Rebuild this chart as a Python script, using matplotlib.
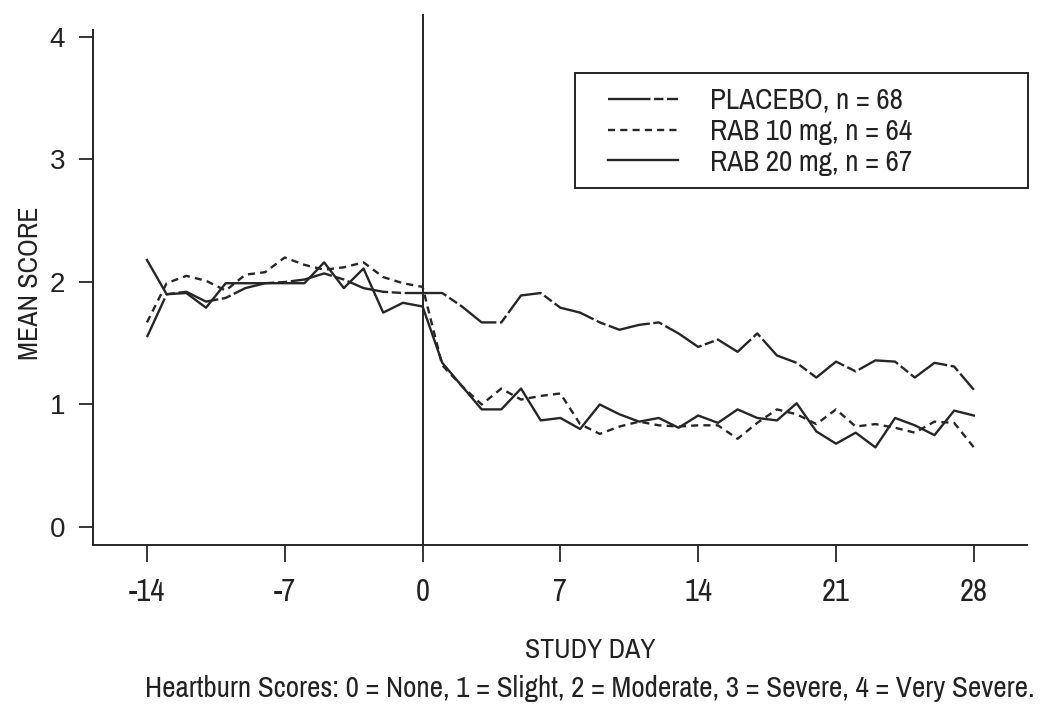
import matplotlib
matplotlib.use("Agg")
import matplotlib.pyplot as plt
from matplotlib import font_manager as fm
from matplotlib.patches import Rectangle

days = list(range(-14, 29))

placebo = [1.55, 1.90, 1.92, 1.84, 1.87, 1.95, 1.99, 2.00, 2.02, 2.07, 2.02, 1.95, 1.92, 1.91, 1.91,
           1.91, 1.80, 1.67, 1.67, 1.89, 1.91, 1.79, 1.75, 1.67, 1.61, 1.65, 1.67, 1.58, 1.47,
           1.53, 1.43, 1.58, 1.40, 1.34, 1.22, 1.35, 1.27, 1.36, 1.35, 1.22, 1.34, 1.31, 1.12]

rab10 = [1.67, 1.99, 2.05, 2.01, 1.93, 2.06, 2.08, 2.20, 2.14, 2.10, 2.12, 2.16, 2.04, 1.99, 1.96,
         1.32, 1.15, 1.00, 1.13, 1.04, 1.07, 1.09, 0.84, 0.76, 0.82, 0.86, 0.83, 0.82, 0.83,
         0.83, 0.72, 0.85, 0.96, 0.92, 0.84, 0.96, 0.82, 0.84, 0.81, 0.77, 0.86, 0.85, 0.65]

rab20 = [2.18, 1.90, 1.91, 1.79, 1.99, 1.99, 1.99, 1.99, 1.99, 2.16, 1.95, 2.11, 1.75, 1.83, 1.80,
         1.34, 1.15, 0.96, 0.96, 1.13, 0.87, 0.89, 0.80, 1.00, 0.92, 0.86, 0.89, 0.81, 0.91,
         0.85, 0.96, 0.89, 0.87, 1.01, 0.78, 0.68, 0.77, 0.65, 0.89, 0.83, 0.75, 0.95, 0.91]

labels = ["PLACEBO, n = 68", "RAB 10 mg, n = 64", "RAB 20 mg, n = 67"]
xticks = [-14, -7, 0, 7, 14, 21, 28]
yticks = [0, 1, 2, 3, 4]

# condensed font if available
cond = None
for f in fm.fontManager.ttflist:
    if "Condensed" in f.fname or "Narrow" in f.fname:
        if "Bold" in f.fname or "Italic" in f.fname or "Light" in f.fname:
            continue
        cond = f.fname
        if "Narrow" in f.fname:
            break
if cond is not None:
    NARROW_PROP = lambda size: fm.FontProperties(fname=cond, size=size)
else:
    NARROW_PROP = lambda size: fm.FontProperties(family="Liberation Sans", size=size * 0.85)

W, H = 1048, 706
fig = plt.figure(figsize=(W / 100, H / 100), dpi=100)
ax = fig.add_axes([93/W, 1-545/H, (1027-93)/W, (545-30)/H])

col = "#262626"
tcol = "#222222"
ax.plot(days, placebo, color=col, lw=1.7, dashes=(18, 1.5, 4, 1.5), label=labels[0])
ax.plot(days, rab10, color=col, lw=1.7, dashes=(3, 2.2), label=labels[1])
ax.plot(days, rab20, color=col, lw=1.7, label=labels[2])

ax.axvline(0, ymin=0, ymax=1.03, color=col, lw=1.4, clip_on=False, zorder=5)

ax.set_xlim(-16.74, 30.7)
ax.set_ylim(-0.147, 4.057)

for s in ["top", "right"]:
    ax.spines[s].set_visible(False)
for s in ["left", "bottom"]:
    ax.spines[s].set_linewidth(1.4)
    ax.spines[s].set_color(col)

ax.set_xticks(xticks)
ax.set_xticklabels([str(v) for v in xticks], fontproperties=NARROW_PROP(22), color=tcol)
ax.set_yticks(yticks)
ax.set_yticklabels([str(v) for v in yticks], family=["Liberation Sans", "DejaVu Sans"], fontsize=20, color=tcol)
ax.tick_params(axis="x", length=12, width=1.3, pad=12, color=col)
ax.tick_params(axis="y", length=10, width=1.3, pad=10, color=col)

ax.set_xlabel("STUDY DAY", fontproperties=NARROW_PROP(20), color=tcol)
ax.set_ylabel("MEAN SCORE", fontproperties=NARROW_PROP(20), color=tcol)
ax.xaxis.set_label_coords((590-93)/(1027-93), (545-650)/(545-30))
ax.yaxis.set_label_coords((30-93)/(1027-93), (545-283)/(545-30))
ax.xaxis.label.set_va("center")
ax.yaxis.label.set_va("center")

# legend frame box
fig.patches.append(Rectangle((575/W, 1-188/H), (1028-575)/W, (188-73)/H, transform=fig.transFigure,
                             fill=False, edgecolor=tcol, linewidth=1.4))
leg = fig.legend(loc="upper left", bbox_to_anchor=(608/W, 1-87/H), bbox_transform=fig.transFigure,
                 handles=ax.get_lines()[:3], labels=labels,
                 prop=NARROW_PROP(21), frameon=False,
                 handlelength=2.4, handletextpad=1.1, borderpad=0, labelspacing=0.13,
                 borderaxespad=0)
for t in leg.get_texts():
    t.set_color(tcol)

fig.text(1035/W, 1-688/H, "Heartburn Scores: 0 = None, 1 = Slight, 2 = Moderate, 3 = Severe, 4 = Very Severe.",
         ha="right", va="center", fontproperties=NARROW_PROP(21), color=tcol)

fig.savefig("out.png", dpi=100)
